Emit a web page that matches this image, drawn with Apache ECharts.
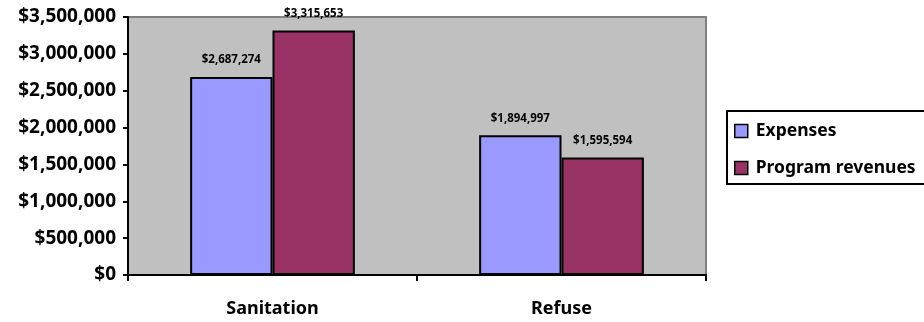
<!DOCTYPE html>
<html>
<head>
<meta charset="utf-8">
<script src="https://cdn.jsdelivr.net/npm/echarts@6/dist/echarts.min.js"></script>
<style>
html,body{margin:0;padding:0;background:#fff;}
#c{width:924px;height:322px;}
</style>
</head>
<body>
<div id="c"></div>
<script>
const categories = ['Sanitation', 'Refuse'];
const expenses = [2687274, 1894997];
const programRevenues = [3315653, 1595594];
const seriesNames = ['Expenses', 'Program revenues'];

const FONT = 'Noto Sans';
function money(v) {
  return '$' + Math.round(v).toString().replace(/\B(?=(\d{3})+(?!\d))/g, ',');
}
const chart = echarts.init(document.getElementById('c'), null, {renderer: 'canvas'});
const labelOpt = {
  show: true, position: 'top', distance: 11,
  formatter: p => money(p.value),
  fontFamily: FONT, fontWeight: 'bold', fontSize: 11.5, color: '#000'
};
chart.setOption({
  animation: false,
  textStyle: {fontFamily: FONT},
  grid: {
    left: 128, right: 218, top: 17, bottom: 47,
    show: true, backgroundColor: '#C0C0C0', borderColor: '#808080', borderWidth: 2
  },
  legend: {
    orient: 'vertical', left: 727, top: 111,
    backgroundColor: '#fff', borderColor: '#000', borderWidth: 2,
    padding: [11, 24, 7, 7], itemGap: 19,
    itemWidth: 13, itemHeight: 13, icon: 'rect',
    textStyle: {fontFamily: FONT, fontWeight: 'bold', fontSize: 17.5, color: '#000', padding: [0, 0, 0, 3]},
    itemStyle: {borderColor: '#000', borderWidth: 1.5},
    data: seriesNames
  },
  xAxis: {
    type: 'category', data: categories,
    axisLine: {lineStyle: {color: '#000', width: 2}},
    axisTick: {show: true, length: 6, lineStyle: {color: '#000', width: 2}},
    axisLabel: {fontFamily: FONT, fontWeight: 'bold', fontSize: 18, color: '#000', margin: 25}
  },
  yAxis: {
    type: 'value', min: 0, max: 3500000, interval: 500000,
    axisLine: {show: true, lineStyle: {color: '#000', width: 2}},
    axisTick: {show: true, length: 5, lineStyle: {color: '#000', width: 2}},
    splitLine: {show: false},
    axisLabel: {fontFamily: FONT, fontWeight: 'bold', fontSize: 19, color: '#000', margin: 12, formatter: v => money(v)}
  },
  series: [
    {
      name: seriesNames[0], type: 'bar', data: expenses,
      barGap: '0%', barCategoryGap: '43%',
      itemStyle: {color: '#9999FF', borderColor: '#000', borderWidth: 2},
      label: labelOpt
    },
    {
      name: seriesNames[1], type: 'bar', data: programRevenues,
      barGap: '0%', barCategoryGap: '43%',
      itemStyle: {color: '#993366', borderColor: '#000', borderWidth: 2},
      label: labelOpt
    }
  ]
});
</script>
</body>
</html>
